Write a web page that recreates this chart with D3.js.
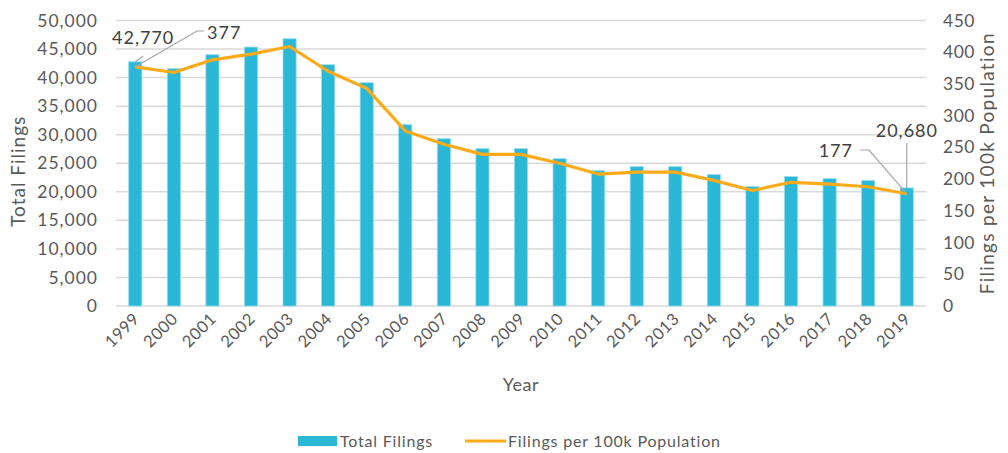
<!DOCTYPE html>
<html>
<head>
<meta charset="utf-8">
<script src="https://cdn.jsdelivr.net/npm/d3@7"></script>
<style>
  html, body { margin: 0; padding: 0; background: #fff; }
  svg { display: block; font-family: "Lato", "Open Sans", sans-serif; font-weight: 400; }
</style>
</head>
<body>
<svg id="chart" width="1008" height="453"></svg>
<script>
// Annual court filings, 1999–2019
const years = ["1999","2000","2001","2002","2003","2004","2005","2006","2007","2008","2009",
               "2010","2011","2012","2013","2014","2015","2016","2017","2018","2019"];
const totalFilings = [42770, 41550, 44000, 45350, 46800, 42250, 39100, 31750, 29300, 27550, 27550,
                      25800, 23700, 24400, 24400, 23000, 20900, 22650, 22300, 21950, 20680];
const filingsPer100k = [377, 368, 388, 397, 409, 370, 343, 276, 255, 239, 239,
                        225, 208, 211, 211, 198, 182, 195, 192, 188, 177];
const leftTicks = [0, 5000, 10000, 15000, 20000, 25000, 30000, 35000, 40000, 45000, 50000];
const rightTicks = [0, 50, 100, 150, 200, 250, 300, 350, 400, 450];

const svg = d3.select("#chart");
const W = 1008;
const x0 = 116, x1 = W - 82;
const yTop = 20.5, yBot = 306;

const x = d3.scaleBand().domain(years).range([x0, x1]).paddingInner(0.66).paddingOuter(0.33);
const yL = d3.scaleLinear().domain([0, 50000]).range([yBot, yTop]);
const yR = d3.scaleLinear().domain([0, 450]).range([yBot, yTop]);
const cx = d => x(d) + x.bandwidth() / 2;

const textColor = "#595959";
const fmt = d3.format(",");
const FONT = "Lato, 'Open Sans', sans-serif";

// gridlines
svg.append("g").selectAll("line").data(leftTicks).join("line")
  .attr("x1", x0).attr("x2", x1)
  .attr("y1", d => yL(d)).attr("y2", d => yL(d))
  .attr("stroke", "#d9d9d9").attr("stroke-width", 1.5);

// bars
svg.append("g").selectAll("rect").data(years).join("rect")
  .attr("x", d => x(d))
  .attr("width", x.bandwidth())
  .attr("y", (d, i) => yL(totalFilings[i]))
  .attr("height", (d, i) => yBot - yL(totalFilings[i]))
  .attr("fill", "#2bb7d6")
  .attr("stroke", "#8fdcee").attr("stroke-width", 0.8);

// left axis
const axL = svg.append("g").attr("transform", `translate(${x0},0)`)
  .call(d3.axisLeft(yL).tickValues(leftTicks).tickFormat(fmt).tickSize(0).tickPadding(18))
  .attr("font-family", FONT);
axL.select(".domain").remove();
axL.selectAll("text").attr("fill", textColor).style("font-size", "17.5px")
  .style("letter-spacing", "1px");

// right axis
const axR = svg.append("g").attr("transform", `translate(${x1},0)`)
  .call(d3.axisRight(yR).tickValues(rightTicks).tickSize(0).tickPadding(17))
  .attr("font-family", FONT);
axR.select(".domain").remove();
axR.selectAll("text").attr("fill", textColor).style("font-size", "17.5px")
  .style("letter-spacing", "0.5px");

// x axis
const axX = svg.append("g").attr("transform", `translate(0,${yBot})`)
  .call(d3.axisBottom(x).tickSize(0).tickPadding(0))
  .attr("font-family", FONT);
axX.select(".domain").remove();
axX.selectAll("text")
  .attr("fill", textColor).style("font-size", "16.5px")
  .style("letter-spacing", "0.5px")
  .attr("text-anchor", "end")
  .attr("dy", 0).attr("y", 0)
  .attr("transform", "translate(5,14) rotate(-45)");

// line series
const line = d3.line().x(d => cx(d[0])).y(d => yR(d[1]));
svg.append("path")
  .datum(years.map((y, i) => [y, filingsPer100k[i]]))
  .attr("d", line)
  .attr("fill", "none").attr("stroke", "#fdab1a").attr("stroke-width", 3.2)
  .attr("stroke-linejoin", "round");

// axis titles
svg.append("text").attr("transform", `translate(25,${(yTop + yBot) / 2 + 8}) rotate(-90)`)
  .attr("text-anchor", "middle").attr("fill", textColor).style("font-size", "19px")
  .style("letter-spacing", "1px")
  .text("Total Filings");
svg.append("text").attr("transform", `translate(994,${(yTop + yBot) / 2}) rotate(-90)`)
  .attr("text-anchor", "middle").attr("fill", textColor).style("font-size", "19px")
  .style("letter-spacing", "1.3px")
  .text("Filings per 100k Population");
svg.append("text").attr("x", (x0 + x1) / 2).attr("y", 391)
  .attr("text-anchor", "middle").attr("fill", textColor).style("font-size", "18px")
  .style("letter-spacing", "0.5px")
  .text("Year");

// data labels with leader lines
const ann = svg.append("g").style("font-size", "18px").style("letter-spacing", "1px");
const last = years.length - 1;
const lc = "#a6a6a6";
const labColor = "#404040";
// first bar value
ann.append("line").attr("x1", cx(years[0]) + 8).attr("y1", 56)
  .attr("x2", cx(years[0])).attr("y2", yL(totalFilings[0]))
  .attr("stroke", lc).attr("stroke-width", 1.2);
ann.append("text").attr("x", 112).attr("y", 44)
  .attr("fill", labColor).text(fmt(totalFilings[0]));
// first line value
ann.append("polyline")
  .attr("points", `${cx(years[0])},${yR(filingsPer100k[0])} 197,31 204,31`)
  .attr("fill", "none").attr("stroke", lc).attr("stroke-width", 1.2);
ann.append("text").attr("x", 207).attr("y", 39)
  .attr("fill", labColor).text(filingsPer100k[0]);
// last bar value
ann.append("line").attr("x1", cx(years[last])).attr("y1", 143)
  .attr("x2", cx(years[last])).attr("y2", yL(totalFilings[last]))
  .attr("stroke", lc).attr("stroke-width", 1.2);
ann.append("text").attr("x", 938).attr("y", 137)
  .attr("text-anchor", "end").attr("fill", labColor)
  .text(fmt(totalFilings[last]));
// last line value
ann.append("polyline")
  .attr("points", `${cx(years[last])},${yR(filingsPer100k[last])} 869,150 860,150`)
  .attr("fill", "none").attr("stroke", lc).attr("stroke-width", 1.2);
ann.append("text").attr("x", 853).attr("y", 157)
  .attr("text-anchor", "end").attr("fill", labColor)
  .text(filingsPer100k[last]);

// legend
const lg = svg.append("g").style("font-size", "16px").style("letter-spacing", "0.8px");
lg.append("rect").attr("x", 298).attr("y", 436).attr("width", 39).attr("height", 10).attr("fill", "#2bb7d6");
lg.append("text").attr("x", 340).attr("y", 447).attr("fill", textColor).text("Total Filings");
lg.append("line").attr("x1", 465).attr("x2", 506).attr("y1", 441).attr("y2", 441)
  .attr("stroke", "#fdab1a").attr("stroke-width", 3);
lg.append("text").attr("x", 508).attr("y", 447).attr("fill", textColor).text("Filings per 100k Population");
</script>
</body>
</html>
